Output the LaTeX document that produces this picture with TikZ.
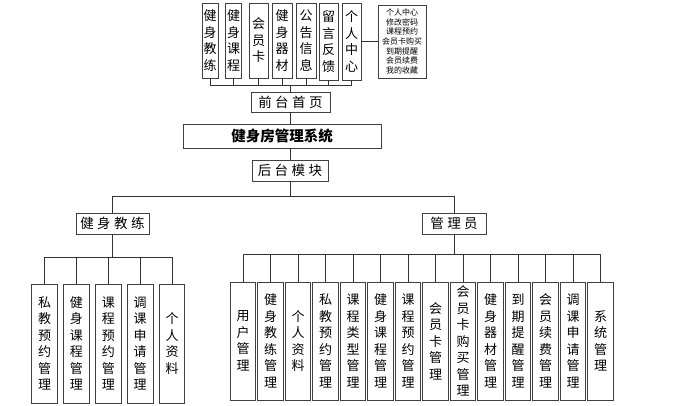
\documentclass[tikz,border=0pt]{standalone}
\usepackage{fontspec}
\newfontfamily\cjk{Noto Sans CJK SC}
\usetikzlibrary{calc}
\tikzset{
  bx/.style={draw=black!75, line width=0.9pt, fill=white, inner sep=0pt, align=center,
    font=\cjk\fontsize{13}{16.5}\selectfont},
  hb/.style={bx, font=\cjk\fontsize{13.5}{16}\selectfont},
  ln/.style={draw=black!80, line width=0.8pt},
}
\begin{document}
\begin{tikzpicture}[x=1pt,y=-1pt]
\useasboundingbox (0,0) rectangle (688,405);
% top row
\node[bx, minimum width=16, minimum height=75] (t1) at (210,40.5) {健\\身\\教\\练};
\node[bx, minimum width=15.5, minimum height=75] (t2) at (233.5,40.5) {健\\身\\课\\程};
\node[bx, minimum width=19, minimum height=75] (t3) at (258.5,40.5) {会\\员\\卡};
\node[bx, minimum width=20, minimum height=75] (t4) at (282,40.5) {健\\身\\器\\材};
\node[bx, minimum width=20, minimum height=75] (t5) at (306,40.5) {公\\告\\信\\息};
\node[bx, minimum width=19, minimum height=77] (t6) at (328.5,41.5) {留\\言\\反\\馈};
\node[bx, minimum width=19, minimum height=77] (t7) at (351.5,41.5) {个\\人\\中\\心};
\node[bx, minimum width=48, minimum height=73, font=\cjk\fontsize{8}{9.6}\selectfont] (pc) at (402,41.5)
  {个人中心\\修改密码\\课程预约\\会员卡购买\\到期提醒\\会员续费\\我的收藏};
\draw[ln] (t7.east) -- (t7.east -| pc.west);
\coordinate (busT) at (0,85);
\foreach \i in {1,...,7} { \draw[ln] (t\i.south) -- (t\i.south |- busT); }
\draw[ln] (t1.south |- busT) -- (t7.south |- busT);
% main column
\node[hb, minimum width=79, minimum height=20] (qt) at (290.5,102) {前\hspace{3.5pt}台\hspace{3.5pt}首\hspace{3.5pt}页};
\draw[ln] (qt.north |- busT) -- (qt.north);
\node[bx, minimum width=198, minimum height=24, font=\cjk\bfseries\fontsize{14.5}{16}\selectfont] (sys) at (282,136) {健身房管理系统};
\draw[ln] (qt.south) -- (qt.south |- sys.north);
\node[hb, minimum width=76, minimum height=21] (ht) at (290,170.5) {后\hspace{3.5pt}台\hspace{3.5pt}模\hspace{3.5pt}块};
\draw[ln] (sys.south -| ht.north) -- (ht.north);
\coordinate (busM) at (0,196);
\node[hb, minimum width=73, minimum height=21] (co) at (112.5,223.5) {健\hspace{3.5pt}身\hspace{3.5pt}教\hspace{3.5pt}练};
\node[hb, minimum width=64, minimum height=21] (ad) at (454,223.5) {管\hspace{3.5pt}理\hspace{3.5pt}员};
\draw[ln] (ht.south) -- (ht.south |- busM);
\draw[ln] (co.north) -- (co.north |- busM) -- (ad.north |- busM) -- (ad.north);
% coach children
\coordinate (busC) at (0,257);
\foreach \i/\t in {1/{私\\教\\预\\约\\管\\理},2/{健\\身\\课\\程\\管\\理},3/{课\\程\\预\\约\\管\\理},4/{调\\课\\申\\请\\管\\理},5/{个\\人\\资\\料}} {
  \node[bx, minimum width=25.5, minimum height=119] (c\i) at ({44.5+31.9*(\i-1)},343.5) {\t};
  \draw[ln] (c\i.north) -- (c\i.north |- busC);
}
\draw[ln] (co.south) -- (co.south |- busC);
\draw[ln] (c1.north |- busC) -- (c5.north |- busC);
% admin children
\coordinate (busA) at (0,254);
\foreach \i/\t in {1/{用\\户\\管\\理},2/{健\\身\\教\\练\\管\\理},3/{个\\人\\资\\料},4/{私\\教\\预\\约\\管\\理},5/{课\\程\\类\\型\\管\\理},6/{健\\身\\课\\程\\管\\理},7/{课\\程\\预\\约\\管\\理},8/{会\\员\\卡\\管\\理},9/{会\\员\\卡\\购\\买\\管\\理},10/{健\\身\\器\\材\\管\\理},11/{到\\期\\提\\醒\\管\\理},12/{会\\员\\续\\费\\管\\理},13/{调\\课\\申\\请\\管\\理},14/{系\\统\\管\\理}} {
  \node[bx, minimum width=25.5, minimum height=118] (m\i) at ({243+27.5*(\i-1)},341) {\t};
  \draw[ln] (m\i.north) -- (m\i.north |- busA);
}
\draw[ln] (ad.south) -- (ad.south |- busA);
\draw[ln] (m1.north |- busA) -- (m14.north |- busA);
\end{tikzpicture}
\end{document}
